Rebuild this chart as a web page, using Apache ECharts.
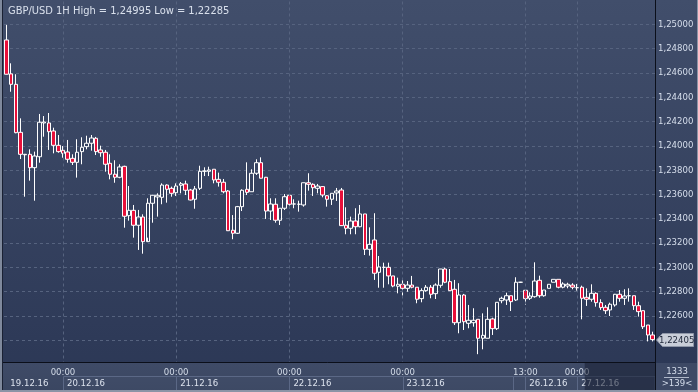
<!DOCTYPE html>
<html><head><meta charset="utf-8">
<script src="https://cdn.jsdelivr.net/npm/echarts@6/dist/echarts.min.js"></script>
<style>html,body{margin:0;padding:0;background:#2c3856;}#c{width:698px;height:392px;}</style>
</head><body><div id="c"></div>
<script>
const title = 'GBP/USD 1H High = 1,24995 Low = 1,22285';
const opens = [1.24871,1.24592,1.24506,1.24111,1.23930,1.23930,1.23820,1.23910,1.24188,1.24188,
1.24122,1.24004,1.23963,1.23949,1.23897,1.23864,1.23952,1.23993,1.24021,1.24062,
1.23966,1.23947,1.23856,1.23766,1.23741,1.23831,1.23425,1.23469,1.23346,1.23414,
1.23211,1.23527,1.23579,1.23576,1.23677,1.23650,1.23614,1.23675,1.23686,1.23636,
1.23560,1.23650,1.23790,1.23790,1.23807,1.23724,1.23700,1.23628,1.23305,1.23280,
1.23499,1.23642,1.23622,1.23774,1.23861,1.23741,1.23463,1.23519,1.23387,1.23486,
1.23593,1.23521,1.23519,1.23513,1.23696,1.23683,1.23650,1.23664,1.23589,1.23560,
1.23612,1.23636,1.23346,1.23321,1.23381,1.23334,1.23439,1.23148,1.23225,1.22959,
1.23000,1.23000,1.22929,1.22844,1.22860,1.22827,1.22854,1.22836,1.22742,1.22808,
1.22836,1.22783,1.22852,1.22986,1.22882,1.22819,1.22544,1.22772,1.22539,1.22544,
1.22572,1.22416,1.22416,1.22575,1.22495,1.22725,1.22731,1.22766,1.22731,1.22877,
1.22811,1.22745,1.22758,1.22893,1.22766,1.22827,1.22877,1.22901,1.22836,1.22846,
1.22854,1.22832,1.22836,1.22753,1.22737,1.22786,1.22709,1.22671,1.22649,1.22690,
1.22778,1.22745,1.22766,1.22766,1.22684,1.22643,1.22525,1.22443];
const highs = [1.24995,1.24679,1.24589,1.24226,1.23933,1.23971,1.23952,1.24262,1.24245,1.24270,
1.24149,1.24089,1.23998,1.24048,1.23930,1.24054,1.24070,1.24083,1.24089,1.24073,
1.24001,1.23966,1.23930,1.23881,1.23848,1.23836,1.23669,1.23513,1.23472,1.23436,
1.23568,1.23596,1.23609,1.23691,1.23683,1.23664,1.23691,1.23702,1.23713,1.23645,
1.23669,1.23836,1.23823,1.23828,1.23807,1.23779,1.23727,1.23636,1.23430,1.23505,
1.23642,1.23864,1.23807,1.23889,1.23905,1.23744,1.23568,1.23568,1.23486,1.23603,
1.23603,1.23560,1.23548,1.23696,1.23774,1.23691,1.23686,1.23669,1.23595,1.23609,
1.23653,1.23653,1.23494,1.23417,1.23486,1.23513,1.23439,1.23329,1.23445,1.23093,
1.23038,1.23038,1.22929,1.22915,1.22904,1.22887,1.22929,1.22836,1.22827,1.22854,
1.22854,1.22868,1.22986,1.22997,1.22986,1.22896,1.22869,1.22781,1.22690,1.22663,
1.22572,1.22621,1.22671,1.22585,1.22712,1.22758,1.22791,1.22766,1.22918,1.22880,
1.22811,1.22794,1.23041,1.22931,1.22813,1.22860,1.22901,1.22901,1.22877,1.22873,
1.22869,1.22863,1.22849,1.22827,1.22860,1.22794,1.22737,1.22690,1.22709,1.22781,
1.22813,1.22819,1.22827,1.22766,1.22717,1.22643,1.22525,1.22470];
const lows = [1.24587,1.24445,1.24103,1.23891,1.23581,1.23713,1.23548,1.23861,1.24075,1.23966,
1.23938,1.23943,1.23902,1.23861,1.23842,1.23738,1.23848,1.23971,1.23960,1.23924,
1.23910,1.23787,1.23724,1.23696,1.23733,1.23326,1.23384,1.23244,1.23143,1.23112,
1.23244,1.23367,1.23417,1.23519,1.23532,1.23581,1.23587,1.23609,1.23595,1.23550,
1.23482,1.23636,1.23751,1.23751,1.23691,1.23664,1.23609,1.23299,1.23231,1.23274,
1.23463,1.23595,1.23622,1.23760,1.23731,1.23398,1.23389,1.23367,1.23348,1.23472,
1.23486,1.23486,1.23458,1.23499,1.23631,1.23587,1.23609,1.23576,1.23499,1.23513,
1.23546,1.23340,1.23272,1.23272,1.23272,1.23329,1.23101,1.23096,1.22896,1.22832,
1.22832,1.22860,1.22836,1.22786,1.22766,1.22799,1.22827,1.22704,1.22712,1.22799,
1.22745,1.22739,1.22832,1.22869,1.22806,1.22525,1.22457,1.22484,1.22498,1.22511,
1.22285,1.22325,1.22416,1.22443,1.22484,1.22704,1.22690,1.22640,1.22723,1.22871,
1.22690,1.22731,1.22750,1.22750,1.22758,1.22827,1.22877,1.22827,1.22827,1.22827,
1.22819,1.22808,1.22572,1.22682,1.22717,1.22676,1.22649,1.22616,1.22599,1.22676,
1.22717,1.22690,1.22717,1.22649,1.22594,1.22492,1.22390,1.22390];
const closes = [1.24589,1.24506,1.24108,1.23930,1.23926,1.23820,1.23916,1.24194,1.24196,1.24116,
1.24004,1.23952,1.23938,1.23889,1.23864,1.23947,1.23988,1.24021,1.24064,1.23952,
1.23943,1.23848,1.23766,1.23741,1.23826,1.23420,1.23469,1.23346,1.23414,1.23211,
1.23527,1.23593,1.23593,1.23677,1.23642,1.23609,1.23669,1.23688,1.23634,1.23554,
1.23645,1.23790,1.23793,1.23801,1.23719,1.23700,1.23622,1.23301,1.23280,1.23499,
1.23634,1.23617,1.23774,1.23861,1.23733,1.23463,1.23521,1.23387,1.23486,1.23581,
1.23519,1.23521,1.23519,1.23696,1.23683,1.23655,1.23669,1.23595,1.23560,1.23609,
1.23628,1.23343,1.23321,1.23381,1.23334,1.23439,1.23148,1.23189,1.22951,1.23003,
1.23000,1.22929,1.22846,1.22860,1.22827,1.22854,1.22836,1.22737,1.22808,1.22836,
1.22778,1.22854,1.22986,1.22877,1.22808,1.22544,1.22772,1.22552,1.22564,1.22564,
1.22416,1.22440,1.22572,1.22495,1.22712,1.22745,1.22766,1.22717,1.22877,1.22877,
1.22742,1.22764,1.22887,1.22766,1.22813,1.22860,1.22901,1.22836,1.22863,1.22860,
1.22836,1.22832,1.22745,1.22737,1.22786,1.22709,1.22668,1.22643,1.22696,1.22778,
1.22745,1.22764,1.22766,1.22684,1.22635,1.22511,1.22443,1.22405];
// axis labels keyed by bar index
const timeLabels = {12:'00:00',36:'00:00',60:'00:00',84:'00:00',110:'13:00',121:'00:00'};
const dateLabels = {0:'19.12.16',12:'20.12.16',36:'21.12.16',60:'22.12.16',84:'23.12.16',110:'26.12.16',121:'27.12.16'};
const gridIdx = [12,36,60,84,110,121];
const dayBoxes = [[12,36],[36,60],[60,84],[84,107.5],[107.5,110],[110,121],[121,null]];
const shadeFrom = 122.6;
const yMin = 1.222, yMax = 1.252, yStep = 0.002;
const barCount = '1333', barsShown = '>139<';

const FONT = "'DejaVu Sans Condensed','DejaVu Sans',sans-serif";
const fmt = v => v.toFixed(5).replace('.', ',');
const cats = opens.map((_, i) => String(i));
const candles = opens.map((o, i) => [o, closes[i], lows[i], highs[i]]);
const GRIDC = '#56637f';

const chart = echarts.init(document.getElementById('c'), null, {renderer:'canvas'});
chart.setOption({
  animation:false,
  title:{text:title, left:3, top:1, textStyle:{color:'#d9e0ec', fontSize:11, fontWeight:'normal', fontFamily:FONT}},
  grid:{left:4, right:43, top:0, bottom:27.5},
  xAxis:[
    {type:'category', data:cats, boundaryGap:true, z:10,
     axisLine:{show:false}, axisTick:{show:false}, splitLine:{show:false},
     axisLabel:{interval:(i)=>timeLabels[i]!==undefined, formatter:(v,i)=>timeLabels[i]||'',
       color:'#d3dbe8', fontSize:9.5, fontFamily:FONT, margin:3}},
    {type:'category', data:cats, boundaryGap:true, position:'bottom', offset:11, z:10,
     axisLine:{show:false}, axisTick:{show:false}, splitLine:{show:false},
     axisLabel:{interval:(i)=>dateLabels[i]!==undefined, formatter:(v,i)=>dateLabels[i]||'',
       align:'left', padding:[0,0,0,4], color:'#dde3ee', fontSize:9.5, fontFamily:FONT, margin:3}}
  ],
  yAxis:{type:'value', position:'right', min:yMin, max:yMax, interval:yStep, z:1, scale:true,
    axisLine:{show:false}, axisTick:{show:false},
    splitLine:{show:true, lineStyle:{color:GRIDC, type:[3,3], width:1}},
    axisLabel:{formatter:fmt, margin:3, showMinLabel:false, showMaxLabel:false,
      color:'#d6deec', fontSize:9.5, fontFamily:FONT}},
  series:[
    {type:'line', data:[], z:1, silent:true,
     markLine:{silent:true, symbol:['none','none'], label:{show:false}, animation:false,
       lineStyle:{color:GRIDC, type:[3,3], width:1},
       data:gridIdx.map(i=>({xAxis:i}))}},
    {type:'candlestick', data:candles, z:2, barWidth:4,
     itemStyle:{color:'rgba(0,0,0,0)', color0:'#e8103a', borderColor:'#ffffff', borderColor0:'#ffffff', borderWidth:1}}
  ]
});

const px = i => chart.convertToPixel({xAxisIndex:0}, i);
const p0 = px(0), band = px(1) - p0;
const pxf = i => p0 + i * band;
const rightEdge = 655;
const g = [];
g.push({type:'rect', z:-100, silent:true, shape:{x:0,y:0,width:698,height:392},
  style:{fill:{type:'linear',x:0,y:0,x2:0,y2:1,colorStops:[{offset:0,color:'#414e6b'},{offset:1,color:'#2b3755'}]}}});
g.push({type:'rect', z:5, silent:true, shape:{x:0,y:0,width:655,height:1}, style:{fill:'#414e6b'}});
// bottom time panel
g.push({type:'rect', z:5, silent:true, shape:{x:0,y:363,width:655,height:29},
  style:{fill:{type:'linear',x:0,y:0,x2:0,y2:1,colorStops:[{offset:0,color:'#3f4b67'},{offset:1,color:'#3a4661'}]}}});
g.push({type:'rect', z:5, silent:true, shape:{x:656,y:363,width:42,height:29}, style:{fill:'#3d4965'}});
dayBoxes.forEach(([a,b]) => {
  const x1 = Math.round(pxf(a)) + 0.5;
  const x2 = b === null ? rightEdge : Math.round(pxf(b)) + 0.5;
  g.push({type:'rect', z:6, silent:true, shape:{x:x1,y:376.5,width:x2-x1,height:16},
    style:{fill:'rgba(255,255,255,0.02)', stroke:'#5b6886', lineWidth:1}});
});
g.push({type:'rect', z:20, silent:true, shape:{x:pxf(shadeFrom),y:363,width:rightEdge-pxf(shadeFrom),height:28},
  style:{fill:'rgba(22,30,50,0.55)'}});
// separators
g.push({type:'line', z:21, silent:true, shape:{x1:0,y1:362.5,x2:655,y2:362.5}, style:{stroke:'#0b0f1a', lineWidth:1}});
g.push({type:'line', z:21, silent:true, shape:{x1:655.5,y1:0,x2:655.5,y2:392}, style:{stroke:'#0b0f1a', lineWidth:1}});
// frame
g.push({type:'rect', z:22, silent:true, shape:{x:0,y:0,width:2,height:392}, style:{fill:'#7f899c'}});
g.push({type:'rect', z:22, silent:true, shape:{x:2,y:0,width:1,height:392}, style:{fill:'#1a2133'}});
g.push({type:'rect', z:22, silent:true, shape:{x:0,y:390,width:698,height:2}, style:{fill:'#8b94a6'}});
g.push({type:'rect', z:22, silent:true, shape:{x:697,y:0,width:1,height:392}, style:{fill:'#8b94a6'}});
// right bottom info
g.push({type:'text', z:22, silent:true, style:{text:barCount, x:677, y:372, align:'center', verticalAlign:'middle',
  fill:'#d6deec', font:"9.5px "+FONT}});
g.push({type:'line', z:22, silent:true, shape:{x1:664,y1:377.5,x2:689,y2:377.5}, style:{stroke:'#aeb7c8', lineWidth:1}});
g.push({type:'text', z:22, silent:true, style:{text:barsShown, x:677, y:384, align:'center', verticalAlign:'middle',
  fill:'#d6deec', font:"9.5px "+FONT}});
// current price tag
const last = closes[closes.length-1];
const yl = Math.round(chart.convertToPixel({yAxisIndex:0}, last));
g.push({type:'polygon', z:22, silent:true,
  shape:{points:[[656.5,yl],[662.5,yl-6.5],[693.5,yl-6.5],[693.5,yl+6.5],[662.5,yl+6.5]]},
  style:{fill:'#c9ced8', stroke:'#8f97a8', lineWidth:1}});
g.push({type:'text', z:23, silent:true, style:{text:fmt(last), x:659, y:yl+0.5, align:'left', verticalAlign:'middle',
  fill:'#1e2638', font:"9.5px "+FONT}});
chart.setOption({graphic:g});
</script></body></html>
